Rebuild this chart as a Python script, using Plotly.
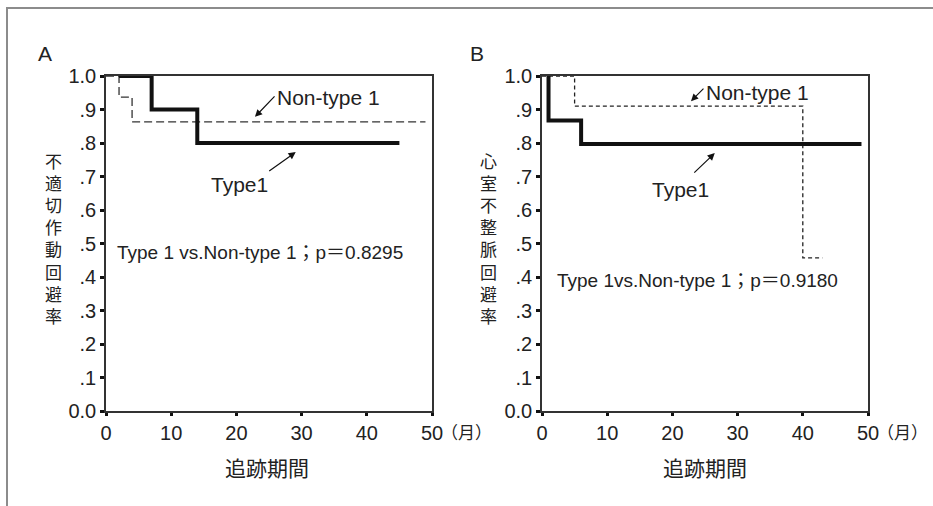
import plotly.graph_objects as go

# ---- data ----
a_type1_t = [2, 7, 14, 45]
a_type1_s = [1.0, 0.9, 0.8, 0.8]
a_non_t = [0, 2, 4, 49]
a_non_s = [1.0, 0.937, 0.863, 0.863]

b_type1_t = [1, 1, 6, 49]
b_type1_s = [1.0, 0.867, 0.797, 0.797]
b_non_t = [0, 5, 40, 43]
b_non_s = [1.0, 0.91, 0.457, 0.457]

y_tickvals = [0.0, 0.1, 0.2, 0.3, 0.4, 0.5, 0.6, 0.7, 0.8, 0.9, 1.0]
y_ticktext = ["0.0", ".1", ".2", ".3", ".4", ".5", ".6", ".7", ".8", ".9", "1.0"]
x_tickvals = [0, 10, 20, 30, 40, 50]
x_ticktext = ["0", "10", "20", "30", "40", "50"]

ytitle_a = "不適切作動回避率"
ytitle_b = "心室不整脈回避率"
xtitle = "追跡期間"
unit = "（月）"
p_text_a = "Type 1 vs.Non-type 1；p＝0.8295"
p_text_b = "Type 1vs.Non-type 1；p＝0.9180"

W, H = 933, 506
FONT = "Liberation Sans, Arial, Noto Sans CJK JP"
CJK = "Noto Sans CJK JP"
TXT = "#222222"

fig = go.Figure()
fig.add_trace(go.Scatter(x=a_non_t, y=a_non_s, mode="lines", line_shape="hv",
                         line=dict(color="#333333", width=1.3, dash="8px,4px"),
                         xaxis="x", yaxis="y", showlegend=False))
fig.add_trace(go.Scatter(x=a_type1_t, y=a_type1_s, mode="lines", line_shape="hv",
                         line=dict(color="#111111", width=4),
                         xaxis="x", yaxis="y", showlegend=False))
fig.add_trace(go.Scatter(x=b_non_t, y=b_non_s, mode="lines", line_shape="hv",
                         line=dict(color="#222222", width=1.3, dash="4px,3px"),
                         xaxis="x2", yaxis="y2", showlegend=False))
fig.add_trace(go.Scatter(x=b_type1_t, y=b_type1_s, mode="lines", line_shape="hv",
                         line=dict(color="#111111", width=4),
                         xaxis="x2", yaxis="y2", showlegend=False))

ydom = [(H - 411) / H, (H - 76) / H]
common_x = dict(range=[0, 50], tickvals=x_tickvals, ticktext=x_ticktext,
                ticks="outside", ticklen=3, tickwidth=3, tickcolor="#111",
                showline=True, mirror=True, linecolor="#333", linewidth=1.5,
                showgrid=False, zeroline=False, automargin=False,
                tickfont=dict(family=FONT, size=20, color=TXT), fixedrange=True)
common_y = dict(range=[0, 1], tickvals=y_tickvals, ticktext=y_ticktext,
                ticks="outside", ticklen=4, tickwidth=3, tickcolor="#111",
                showline=True, mirror=True, linecolor="#333", linewidth=1.5,
                showgrid=False, zeroline=False, domain=ydom, automargin=False,
                tickfont=dict(family=FONT, size=20, color=TXT), fixedrange=True)

fig.update_layout(
    width=W, height=H, margin=dict(l=0, r=0, t=0, b=0, pad=0, autoexpand=False),
    paper_bgcolor="white", plot_bgcolor="white",
    xaxis=dict(domain=[106 / W, 432 / W], anchor="y", **common_x),
    yaxis=dict(anchor="x", **common_y),
    xaxis2=dict(domain=[542 / W, 868 / W], anchor="y2", **common_x),
    yaxis2=dict(anchor="x2", **common_y),
)

ann = []
def txt(x, y, text, size, xanchor="center", xref="paper", yref="paper", family=FONT):
    ann.append(dict(x=x, y=y, xref=xref, yref=yref, text=text, showarrow=False,
                    xanchor=xanchor, yanchor="middle", borderpad=0,
                    font=dict(family=family, size=size, color=TXT)))

def arrow(x, y, ax, ay, xref, yref):
    ann.append(dict(x=x, y=y, xref=xref, yref=yref, text="", showarrow=True,
                    ax=ax, ay=ay, arrowhead=2, arrowsize=1.2, arrowwidth=1.2,
                    arrowcolor="#111"))

# panel labels
txt(45 / W, 1 - 53 / H, "A", 21)
txt(477 / W, 1 - 53 / H, "B", 21)

# y titles: vertically stacked characters in one text block each
txt(53 / W, 1 - 238 / H, "<br>".join(ytitle_a), 17, family=CJK)
txt(488 / W, 1 - 238 / H, "<br>".join(ytitle_b), 17, family=CJK)

# x titles
txt(267 / W, 1 - 467 / H, xtitle, 21, family=CJK)
txt(705 / W, 1 - 467 / H, xtitle, 21, family=CJK)

# month unit
txt(440 / W, 1 - 431 / H, unit, 17, xanchor="left", family=CJK)
txt(876 / W, 1 - 431 / H, unit, 17, xanchor="left", family=CJK)

# panel A annotations
txt(26.0, 0.937, "Non-type 1", 21, xanchor="left", xref="x", yref="y")
arrow(22.85, 0.878, 21, -22, "x", "y")
txt(20.55, 0.675, "Type1", 21, xref="x", yref="y")
arrow(29.1, 0.773, -28, 20, "x", "y")
txt(1.6, 0.472, p_text_a, 19, xanchor="left", xref="x", yref="y")

# panel B annotations
txt(25.0, 0.952, "Non-type 1", 21, xanchor="left", xref="x2", yref="y2")
arrow(22.85, 0.925, 14, -14, "x2", "y2")
txt(21.2, 0.66, "Type1", 21, xref="x2", yref="y2")
arrow(26.5, 0.77, -22, 21, "x2", "y2")
txt(2.1, 0.391, p_text_b, 19, xanchor="left", xref="x2", yref="y2")

fig.update_layout(annotations=ann)

# outer frame: only its top and left edges fall inside the picture
fig.add_shape(type="rect", xref="paper", yref="paper",
              x0=7 / W, y0=-0.05, x1=1.05, y1=1 - 8 / H,
              line=dict(color="#8c8c8c", width=2), layer="below")

fig.write_html(
    "out.html",
    config={"displayModeBar": False},
    post_script="document.body.style.margin='0';document.body.style.overflow='hidden';",
)
